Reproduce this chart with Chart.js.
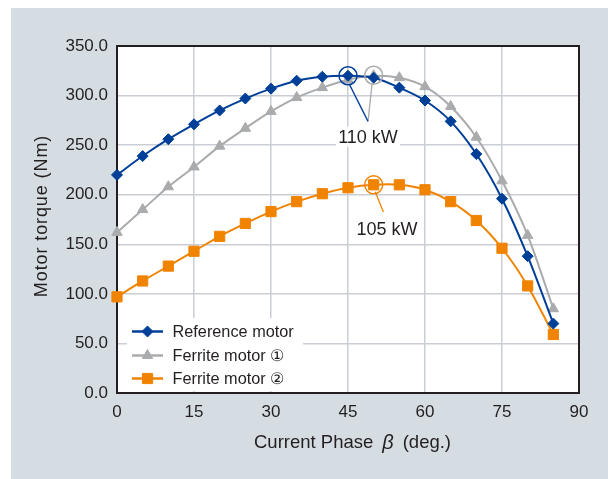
<!DOCTYPE html>
<html><head><meta charset="utf-8">
<script src="https://cdn.jsdelivr.net/npm/chart.js@4.4.0/dist/chart.umd.min.js"></script>
<style>html,body{margin:0;padding:0;background:#fff;overflow:hidden}#wrap{width:608px;height:479px;position:relative}</style>
</head><body><div id="wrap"><canvas id="c" width="608" height="479"></canvas></div>
<script>
// ---- data ----
const phase = [0,5,10,15,20,25,30,35,40,45,50,55,60,65,70,75,80,85];
const referenceMotor = [220,239,256,271,285,297,307,315,319,320,318,308,295,274,241,196,138,70];
const ferriteMotor1  = [162,185,208,228,249,267,284,298,308,316,320,318,309,289,258,214,159,85];
const ferriteMotor2  = [97,113,128,143,158,171,183,193,201,207,210,210,205,193,174,146,108,59];
const xTicks = [0,15,30,45,60,75,90];
const yTicks = [0,50,100,150,200,250,300,350];
const seriesNames = ['Reference motor','Ferrite motor \u2460','Ferrite motor \u2461'];
// annotation marks (data coordinates)
const refPeakX = [45],  refPeakY = [320];
const fer1PeakX = [50], fer1PeakY = [320.5];
const fer2PeakX = [50], fer2PeakY = [210];
const refLeaderX = [45.3,48.9],  refLeaderY = [311,274];
const fer1LeaderX = [49.7,48.9], fer1LeaderY = [312.5,274];
const fer2LeaderX = [50.3,51.9], fer2LeaderY = [203,182.5];
const labelTexts = ['110 kW','105 kW'];
const labelX = [48.9,52.6];
const labelY = [258.5,165];

const BLUE='#003f98', GRAY='#a9abad', ORANGE='#f08300', TXT='#231f20';
const FONT='"Liberation Sans", Arial, sans-serif';
const xy=(xs,ys)=>xs.map((x,i)=>({x:x,y:ys[i]}));

const styles=[
 {color:BLUE, pointStyle:'rectRot', radius:5.5},
 {color:GRAY, pointStyle:'triangle', radius:6},
 {color:ORANGE, pointStyle:'rect', radius:7.2}
];

const decor={
 id:'decor',
 beforeDraw(chart){
  const ctx=chart.ctx, a=chart.chartArea;
  ctx.save();
  ctx.fillStyle='#fff'; ctx.fillRect(0,0,chart.width,chart.height);
  ctx.fillStyle='#d5dde3'; ctx.fillRect(11,8,chart.width-11,chart.height-8);
  ctx.fillStyle='#fff'; ctx.fillRect(a.left,a.top,a.right-a.left,a.bottom-a.top);
  ctx.restore();
 },
 beforeDatasetsDraw(chart){
  const ctx=chart.ctx, a=chart.chartArea;
  ctx.save();
  ctx.fillStyle='#fff'; ctx.fillRect(127,318,176,73);
  ctx.strokeStyle=TXT; ctx.lineWidth=2;
  ctx.strokeRect(a.left,a.top,a.right-a.left,a.bottom-a.top);
  ctx.restore();
 },
 afterDatasetsDraw(chart){
  const ctx=chart.ctx, xs=chart.scales.x, ys=chart.scales.y;
  ctx.save();
  ctx.font='18px '+FONT; ctx.textAlign='center'; ctx.textBaseline='middle';
  labelTexts.forEach((t,i)=>{
   const px=xs.getPixelForValue(labelX[i]), py=ys.getPixelForValue(labelY[i]);
   const w=ctx.measureText(t).width;
   ctx.fillStyle='#fff'; ctx.fillRect(px-w/2-2,py-10,w+4,20);
   ctx.fillStyle=TXT; ctx.fillText(t,px,py+1);
  });
  const rows=[331.5,355.5,378.5];
  ctx.font='16.3px '+FONT; ctx.textAlign='left';
  rows.forEach((ry,i)=>{
   const s=styles[i];
   ctx.strokeStyle=s.color; ctx.lineWidth=2.5;
   ctx.beginPath(); ctx.moveTo(132,ry); ctx.lineTo(163,ry); ctx.stroke();
   ctx.fillStyle=s.color; ctx.strokeStyle=s.color; ctx.lineWidth=1;
   Chart.helpers.drawPoint(ctx,{pointStyle:s.pointStyle,radius:s.radius,rotation:0,borderWidth:1},147.5,ry);
   ctx.fillStyle=TXT; ctx.fillText(seriesNames[i],172.5,ry+1);
  });
  ctx.fillStyle=TXT;
  ctx.save();
  ctx.translate(42,216); ctx.rotate(-Math.PI/2);
  ctx.font='18px '+FONT; ctx.textAlign='center'; ctx.textBaseline='middle';
  try{ctx.letterSpacing='0.9px';}catch(e){}
  ctx.fillText('Motor torque (Nm)',0,0);
  ctx.restore();
  const p1='Current Phase', p2='\u03b2', p3='(deg.)';
  ctx.font='18.5px '+FONT; const w1=ctx.measureText(p1).width, w3=ctx.measureText(p3).width;
  ctx.font='italic 20px '+FONT; const w2=ctx.measureText(p2).width;
  const gap=9, total=w1+gap+w2+gap+w3; let x0=352.5-total/2, yT=443;
  ctx.textAlign='left'; ctx.textBaseline='middle';
  ctx.font='18.5px '+FONT; ctx.fillText(p1,x0,yT); x0+=w1+gap;
  ctx.font='italic 20px '+FONT; ctx.fillText(p2,x0,yT); x0+=w2+gap;
  ctx.font='18.5px '+FONT; ctx.fillText(p3,x0,yT);
  ctx.restore();
 }
};

const seriesData=[referenceMotor,ferriteMotor1,ferriteMotor2];
const mainSets=seriesData.map((d,i)=>({
 label:seriesNames[i], data:xy(phase,d), borderColor:styles[i].color, backgroundColor:styles[i].color,
 pointStyle:styles[i].pointStyle, pointRadius:styles[i].radius, pointBorderWidth:1,
 borderWidth:2, tension:0.3, clip:false
}));
const circle=(xa,ya,c)=>({data:xy(xa,ya),showLine:false,pointStyle:'circle',pointRadius:9,
 pointBorderWidth:1.5,borderColor:c,backgroundColor:'rgba(0,0,0,0)',clip:false});
const leader=(xa,ya,c)=>({data:xy(xa,ya),pointRadius:0,borderWidth:1.3,borderColor:c,tension:0,clip:false});
const annoSets=[
 circle(refPeakX,refPeakY,BLUE), circle(fer1PeakX,fer1PeakY,GRAY), circle(fer2PeakX,fer2PeakY,ORANGE),
 leader(refLeaderX,refLeaderY,BLUE), leader(fer1LeaderX,fer1LeaderY,GRAY), leader(fer2LeaderX,fer2LeaderY,ORANGE)
];

new Chart(document.getElementById('c'),{
 type:'line',
 data:{datasets:annoSets.concat(mainSets)},
 options:{
  responsive:false, animation:false, events:[],
  layout:{padding:{left:0,top:46,right:29,bottom:0}},
  plugins:{legend:{display:false},tooltip:{enabled:false}},
  scales:{
   x:{type:'linear',min:0,max:90,
      afterBuildTicks:s=>{s.ticks=xTicks.map(v=>({value:v}));},
      ticks:{font:{family:FONT,size:17},color:TXT,padding:9,maxRotation:0},
      grid:{color:'#c9ced4',lineWidth:1.5,drawTicks:false},border:{display:false},
      afterFit:s=>{s.height=86;}},
   y:{min:0,max:350,
      afterBuildTicks:s=>{s.ticks=yTicks.map(v=>({value:v}));},
      ticks:{font:{family:FONT,size:17},color:TXT,padding:9,callback:v=>Number(v).toFixed(1)},
      grid:{color:'#c9ced4',lineWidth:1.5,drawTicks:false},border:{display:false},
      afterFit:s=>{s.width=117;}}
  }
 },
 plugins:[decor]
});
</script></body></html>
